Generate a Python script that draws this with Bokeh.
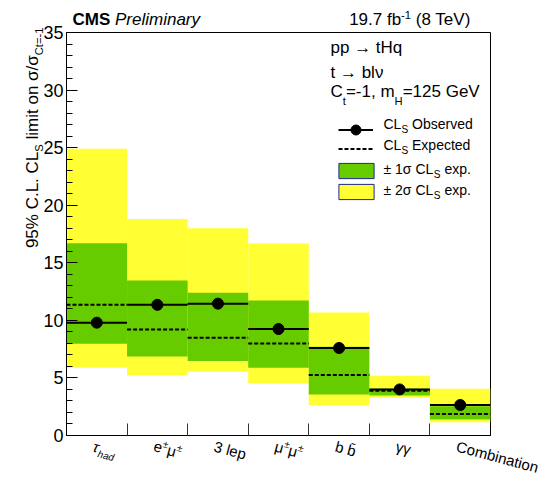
import math
import re
from bokeh.plotting import figure
from bokeh.models import Range1d, FixedTicker, Legend, LegendItem, ColumnDataSource
from bokeh.core.properties import value
from bokeh.embed import file_html
from bokeh.resources import INLINE

# ---------------- data ----------------
categories = ["τ_{had}", "e^{±}μ^{±}", "3 lep", "μ^{±}μ^{±}", "b b\u0304", "γγ", "Combination"]
observed = [9.80, 11.35, 11.45, 9.25, 7.60, 4.00, 2.65]
expected = [11.35, 9.20, 8.50, 8.00, 5.25, 3.88, 1.87]
band1_lo = [7.97, 6.86, 6.46, 5.88, 3.56, 3.48, 1.38]
band1_hi = [16.70, 13.47, 12.40, 11.73, 7.70, 4.06, 2.55]
band2_lo = [5.88, 5.24, 5.53, 4.52, 2.63, 3.27, 1.16]
band2_hi = [24.90, 18.80, 18.00, 16.68, 10.69, 5.18, 4.05]
y_ticks = [0, 5, 10, 15, 20, 25, 30, 35]
y_minor = list(range(0, 36))
y_max = 35
title_left = ["CMS", "Preliminary"]
title_right = "19.7 fb^{-1} (8 TeV)"
y_title = "95% C.L. CL_{S} limit on σ/σ_{Ct=-1}"
info_lines = ["pp → tHq", "t → blν", "C_{t}=-1, m_{H}=125 GeV"]
legend_labels = ["CL_{S} Observed", "CL_{S} Expected", "± 1σ CL_{S} exp.", "± 2σ CL_{S} exp."]

# ---------------- style ----------------
FONT = "Liberation Sans"
GREEN = "#66cc00"
YELLOW = "#ffff33"
BOXLINE = "#1c2a8c"
W, H = 543, 480
FL, FR, FT, FB = 66, 490, 32, 435
BASE_K = 0.35  # baseline correction (fraction of font size, towards text-up)

WID = {' ': 278, '!': 278, '%': 889, '(': 333, ')': 333, '-': 333, '.': 278, '/': 278, ',': 278,
       '=': 584, '±': 584, '→': 1000,
       'A': 667, 'B': 667, 'C': 722, 'D': 722, 'E': 667, 'F': 611, 'G': 778, 'H': 722, 'I': 278,
       'L': 556, 'M': 833, 'O': 778, 'P': 667, 'S': 667, 'T': 611, 'V': 667,
       'a': 556, 'b': 556, 'c': 500, 'd': 556, 'e': 556, 'f': 278, 'g': 556, 'h': 556, 'i': 222,
       'l': 222, 'm': 833, 'n': 556, 'o': 556, 'p': 556, 'q': 556, 'r': 333, 's': 500, 't': 278,
       'u': 556, 'v': 500, 'x': 500, 'y': 500,
       'τ': 432, 'σ': 617, 'μ': 576, 'γ': 500, 'ν': 500, '\u0304': 0}
BOLD = {'C': 722, 'M': 833, 'S': 667, ' ': 278}


def tw(s, size, table=WID):
    return sum(table.get(c, 556) for c in s) * size / 1000.0


def parse(markup):
    out = []
    pos = 0
    for m in re.finditer(r'([_^])\{([^}]*)\}', markup):
        if m.start() > pos:
            out.append((markup[pos:m.start()], "main"))
        out.append((m.group(2), "sub" if m.group(1) == "_" else "sup"))
        pos = m.end()
    if pos < len(markup):
        out.append((markup[pos:], "main"))
    return out


p = figure(width=W, height=H, output_backend="svg", toolbar_location=None,
           x_range=Range1d(0, len(categories)), y_range=Range1d(0, y_max),
           min_border_left=FL, min_border_right=W - FR, min_border_top=FT,
           min_border_bottom=H - FB)
p.background_fill_color = "white"
p.border_fill_color = "white"
p.outline_line_color = "black"
p.outline_line_width = 1
p.xgrid.visible = False
p.ygrid.visible = False

TEXTS = {}


def add_text(text, ax, ay, dx, dy, size, angle_deg=0.0, style="normal"):
    a = math.radians(angle_deg)
    upx, upy = -math.sin(a), -math.cos(a)
    dx += BASE_K * size * upx
    dy += BASE_K * size * upy
    d = TEXTS.setdefault(style, dict(x=[], y=[], xo=[], yo=[], text=[], size=[], angle=[]))
    d["x"].append(ax)
    d["y"].append(ay)
    d["xo"].append(dx)
    d["yo"].append(dy)
    d["text"].append(text)
    d["size"].append(f"{size:.1f}px")
    d["angle"].append(angle_deg)


def rich(markup, ax, ay, bx, by, size, angle_deg=0.0, style="normal", align="left",
         sub_h=-0.3, sup_h=0.4, small=0.68):
    a = math.radians(angle_deg)
    ux, uy = math.cos(a), -math.sin(a)
    upx, upy = uy, -ux
    items = []
    for txt, kind in parse(markup):
        s = size if kind == "main" else size * small
        h = 0.0 if kind == "main" else (sub_h * size if kind == "sub" else sup_h * size)
        items.append((txt, s, h))
    L = sum(tw(t, s) for t, s, h in items)
    d = -L if align == "right" else 0.0
    for txt, s, h in items:
        lead = len(txt) - len(txt.lstrip(' '))
        core = txt.strip(' ')
        d0 = d + tw(' ' * lead, s)
        if core:
            x = bx + d0 * ux + h * upx
            y = by + d0 * uy + h * upy
            add_text(core, ax, ay, x, y, s, angle_deg, style)
        d += tw(txt, s)


# ---------------- data glyphs ----------------
n = len(categories)
src = ColumnDataSource(dict(
    x0=[i for i in range(n)], x1=[i + 1 for i in range(n)], xc=[i + 0.5 for i in range(n)],
    obs=observed, exp=expected, lo1=band1_lo, hi1=band1_hi, lo2=band2_lo, hi2=band2_hi))

p.quad(left="x0", right="x1", bottom="lo2", top="hi2", source=src,
       fill_color=YELLOW, line_color=None)
p.quad(left="x0", right="x1", bottom="lo1", top="hi1", source=src,
       fill_color=GREEN, line_color=None)
exp_seg = p.segment(x0="x0", y0="exp", x1="x1", y1="exp", source=src,
                    line_color="black", line_width=2, line_dash="4 2")
obs_seg = p.segment(x0="x0", y0="obs", x1="x1", y1="obs", source=src,
                    line_color="black", line_width=2)
obs_pt = p.scatter(x="xc", y="obs", source=src, marker="circle", size=11,
                   fill_color="black", line_color="black")

# hidden renderers, only used for the legend swatches
leg_g = p.quad(left="x0", right="x1", bottom="lo1", top="hi1", source=src,
               fill_color=GREEN, line_color=BOXLINE, line_width=1, visible=False)
leg_y = p.quad(left="x0", right="x1", bottom="lo2", top="hi2", source=src,
               fill_color=YELLOW, line_color=BOXLINE, line_width=1, visible=False)

# ---------------- axes ----------------
ya = p.yaxis[0]
ya.ticker = FixedTicker(ticks=y_ticks, minor_ticks=y_minor)
ya.major_tick_in = 11
ya.major_tick_out = 0
ya.minor_tick_in = 6
ya.minor_tick_out = 0
ya.major_tick_line_color = "black"
ya.minor_tick_line_color = "black"
ya.axis_line_color = "black"
ya.major_label_text_font = FONT
ya.major_label_text_font_size = "18px"
ya.major_label_text_color = "black"
ya.major_label_standoff = 3

xa = p.xaxis[0]
xa.ticker = FixedTicker(ticks=list(range(1, n)), minor_ticks=[])
xa.major_tick_in = 12
xa.major_tick_out = 0
xa.major_tick_line_color = "#333333"
xa.minor_tick_line_color = None
xa.axis_line_color = "black"
xa.major_label_overrides = {i: "" for i in range(1, n)}
xa.major_label_text_font_size = "1px"

# ---------------- x category labels (rotated) ----------------
ANG = -15.0
a = math.radians(ANG)
ux, uy = math.cos(a), -math.sin(a)
dnx, dny = -uy, ux
asc = 0.72 * 15
for i, cat in enumerate(categories):
    bx = -2 + asc * dnx
    by = 5 + asc * dny
    style = "italic" if cat.startswith("τ") else "normal"
    rich(cat, i + 0.5, 0, bx, by, 15, angle_deg=ANG, style=style,
         sub_h=-0.3, sup_h=0.42, small=0.66)

# ---------------- y title ----------------
rich(y_title, 0, y_max, 37.5 - FL, 27 - FT, 17, angle_deg=90, align="right",
     sub_h=-0.27, small=0.66)

# ---------------- top titles ----------------
add_text(title_left[0], 0, y_max, 72 - FL, 25 - FT, 17, style="bold")
add_text(title_left[1], 0, y_max, 72 + tw(title_left[0] + " ", 17, BOLD) - FL, 25 - FT, 17,
         style="italic")
rich(title_right, 0, y_max, 472 - FL, 25 - FT, 17, align="right", sup_h=0.38, small=0.66)

# ---------------- info text ----------------
info_y = [53, 78, 97]
for line, yy in zip(info_lines, info_y):
    rich(line, 0, y_max, 330 - FL, yy - FT, 17, sub_h=-0.42, small=0.66)

# ---------------- legends ----------------
common = dict(padding=0, margin=0, label_standoff=0, label_text_font_size="6px",
              border_line_color=None, background_fill_alpha=0, orientation="vertical",
              inactive_fill_alpha=0)
legA = Legend(items=[LegendItem(label=" ", renderers=[obs_seg, obs_pt])],
              location=(338 - FL, FB - 141.5), glyph_width=35, glyph_height=25,
              label_height=25, spacing=0, **common)
legB = Legend(items=[LegendItem(label=" ", renderers=[exp_seg])],
              location=(338 - FL, FB - 155.5), glyph_width=35, glyph_height=15,
              label_height=15, spacing=0, **common)
legC = Legend(items=[LegendItem(label=" ", renderers=[leg_g]),
                     LegendItem(label=" ", renderers=[leg_y])],
              location=(338 - 4.4 - FL, FB - 201), glyph_width=44, glyph_height=19,
              label_height=19, spacing=2, **common)
for lg in (legA, legB, legC):
    p.add_layout(lg)

leg_text_y = [128, 149, 173, 194]
for lab, yy in zip(legend_labels, leg_text_y):
    rich(lab, 0, y_max, 383 - FL, yy - FT, 14, sub_h=-0.3, small=0.72)

# ---------------- text renderers ----------------
for style, d in TEXTS.items():
    p.text(x="x", y="y", text="text", x_offset="xo", y_offset="yo", angle="angle",
           angle_units="deg",
           text_font_size="size", text_font=value(FONT), text_font_style=style,
           text_color="black", text_align="left", text_baseline="alphabetic",
           source=ColumnDataSource(d), level="overlay")

open("out.html", "w").write(file_html(p, INLINE))
